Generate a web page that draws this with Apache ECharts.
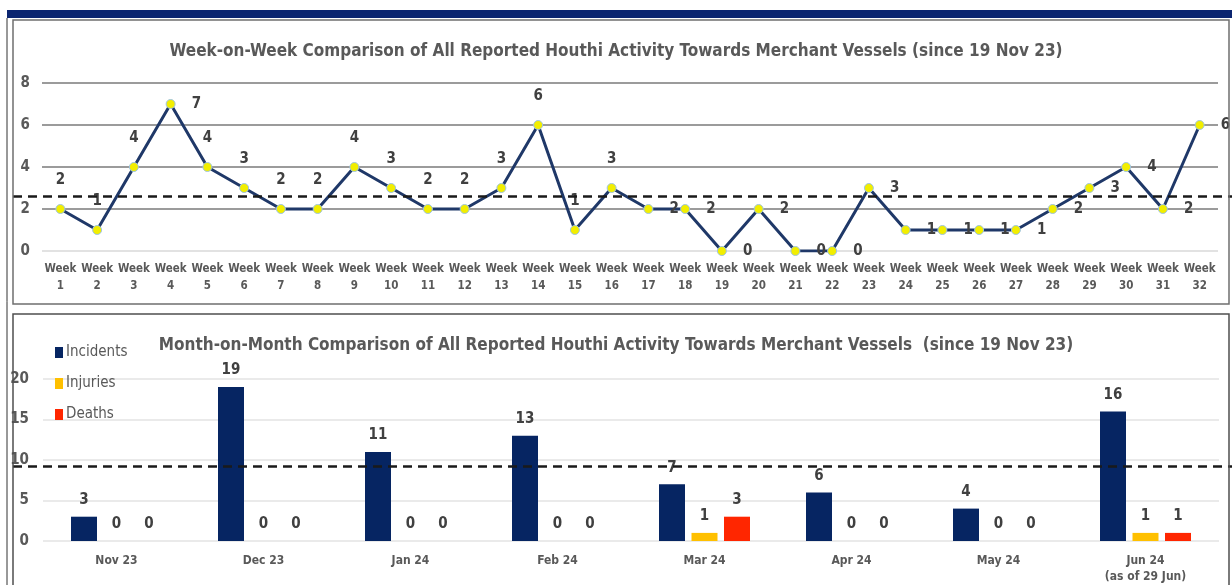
<!DOCTYPE html>
<html>
<head>
<meta charset="utf-8">
<script src="https://cdn.jsdelivr.net/npm/echarts@6/dist/echarts.min.js"></script>
<style>
  html, body { margin: 0; padding: 0; background: #fff; }
  #main { width: 1232px; height: 585px; }
</style>
</head>
<body>
<div id="main"></div>
<script>
// weekly activity (top panel)
const weekNames = Array.from({ length: 32 }, (_, i) => 'Week\n' + (i + 1));
const weekValues = [2, 1, 4, 7, 4, 3, 2, 2, 4, 3, 2, 2, 3, 6, 1, 3,
                    2, 2, 0, 2, 0, 0, 3, 1, 1, 1, 1, 2, 3, 4, 2, 6];
const weekAverage = 2.6;

// monthly activity (bottom panel)
const monthNames = ['Nov 23', 'Dec 23', 'Jan 24', 'Feb 24', 'Mar 24', 'Apr 24', 'May 24', 'Jun 24\n(as of 29 Jun)'];
const incidents = [3, 19, 11, 13, 7, 6, 4, 16];
const injuries = [0, 0, 0, 0, 1, 0, 0, 1];
const deaths = [0, 0, 0, 0, 3, 0, 0, 1];
const monthAverage = 9.2;

const FONT = '"Liberation Sans Narrow", "DejaVu Sans Condensed", Arial, sans-serif';
const GREY = '#595959';

function initHouthiChart() {
    const chartDom = document.getElementById('main');
    const myChart = echarts.init(chartDom);

    const lblStyle = { fontFamily: FONT, fontWeight: 'bold', fontSize: 15, color: '#404040' };

    const option = {
        animation: false,
        textStyle: { fontFamily: FONT },
        title: [
            {
                text: 'Week-on-Week Comparison of All Reported Houthi Activity Towards Merchant Vessels (since 19 Nov 23)',
                left: 'center',
                top: 38,
                textStyle: { fontFamily: FONT, fontSize: 17, fontWeight: 'bold', color: GREY }
            },
            {
                text: 'Month-on-Month Comparison of All Reported Houthi Activity Towards Merchant Vessels  (since 19 Nov 23)',
                left: 'center',
                top: 332,
                textStyle: { fontFamily: FONT, fontSize: 17, fontWeight: 'bold', color: GREY }
            }
        ],
        legend: {
            data: ['Incidents', 'Injuries', 'Deaths'],
            orient: 'vertical',
            left: 50,
            top: 340,
            itemWidth: 8,
            itemHeight: 11,
            itemGap: 16,
            icon: 'rect',
            itemStyle: { borderWidth: 0 },
            textStyle: { fontFamily: FONT, fontSize: 15, color: GREY, padding: [0, 0, 0, -2] }
        },
        grid: [
            { left: 42, right: 14, top: 83, height: 168 },
            { left: 43, right: 13, top: 379, height: 164 }
        ],
        xAxis: [
            {
                gridIndex: 0,
                type: 'category',
                data: weekNames,
                boundaryGap: true,
                axisLine: { show: false },
                axisTick: { show: false },
                axisLabel: {
                    interval: 0, margin: 10, lineHeight: 17,
                    fontFamily: FONT, fontWeight: 'bold', fontSize: 11.5, color: GREY
                }
            },
            {
                gridIndex: 1,
                type: 'category',
                data: monthNames,
                axisLine: { show: false },
                axisTick: { show: false },
                axisLabel: {
                    interval: 0, margin: 12, lineHeight: 16,
                    fontFamily: FONT, fontWeight: 'bold', fontSize: 12, color: GREY
                }
            }
        ],
        yAxis: [
            {
                gridIndex: 0,
                type: 'value',
                min: 0, max: 8, interval: 2,
                axisLabel: { margin: 12, fontFamily: FONT, fontWeight: 'bold', fontSize: 15, color: GREY },
                splitLine: { lineStyle: { color: ['#d9d9d9', '#7a7a7a', '#7a7a7a', '#7a7a7a', '#7a7a7a'], width: 1.5 } }
            },
            {
                gridIndex: 1,
                type: 'value',
                min: 0, max: 20, interval: 5,
                axisLabel: { margin: 14, fontFamily: FONT, fontWeight: 'bold', fontSize: 15, color: GREY },
                splitLine: { lineStyle: { color: '#e3e3e3', width: 1.5 } }
            }
        ],
        series: [
            {
                name: 'Weekly',
                type: 'line',
                xAxisIndex: 0,
                yAxisIndex: 0,
                data: weekValues.map((v, i) => ({
                    value: v,
                    label: { position: (i >= 16 || i === 3) ? 'right' : 'top' }
                })),
                lineStyle: { color: '#1f3868', width: 3 },
                symbol: 'circle',
                symbolSize: 9,
                itemStyle: { color: '#f2ee00', borderColor: '#9cc3e5', borderWidth: 1 },
                label: Object.assign({ show: true, distance: 16 }, lblStyle),
                z: 3
            },
            {
                name: 'Incidents',
                type: 'bar',
                xAxisIndex: 1,
                yAxisIndex: 1,
                data: incidents,
                barWidth: 26,
                barGap: '25%',
                itemStyle: { color: '#062562' },
                label: Object.assign({ show: true, position: 'top', distance: 9 }, lblStyle)
            },
            {
                name: 'Injuries',
                type: 'bar',
                xAxisIndex: 1,
                yAxisIndex: 1,
                data: injuries,
                barWidth: 26,
                barGap: '25%',
                itemStyle: { color: '#ffc000' },
                label: Object.assign({ show: true, position: 'top', distance: 9 }, lblStyle)
            },
            {
                name: 'Deaths',
                type: 'bar',
                xAxisIndex: 1,
                yAxisIndex: 1,
                data: deaths,
                barWidth: 26,
                barGap: '25%',
                itemStyle: { color: '#ff2600' },
                label: Object.assign({ show: true, position: 'top', distance: 9 }, lblStyle)
            }
        ]
    };

    myChart.setOption(option);

    // frames, header band and dashed average lines placed through the axes
    const yTop = myChart.convertToPixel({ yAxisIndex: 0 }, weekAverage);
    const yBot = myChart.convertToPixel({ yAxisIndex: 1 }, monthAverage);
    const dash = { stroke: '#1a1a1a', lineWidth: 2.5, lineDash: [9, 6] };
    myChart.setOption({
        graphic: [
            { type: 'rect', shape: { x: 7, y: 10, width: 1225, height: 8 }, style: { fill: '#0b2570' }, z: 10 },
            { type: 'rect', shape: { x: 13, y: 20, width: 1216, height: 284 }, style: { fill: 'none', stroke: '#6f6f6f', lineWidth: 1.5 }, z: 10 },
            { type: 'rect', shape: { x: 13, y: 314, width: 1216, height: 290 }, style: { fill: 'none', stroke: '#4f4f4f', lineWidth: 1.5 }, z: 10 },
            { type: 'line', shape: { x1: 7, y1: 18, x2: 7, y2: 585 }, style: { stroke: '#333', lineWidth: 1 }, z: 10 },
            { type: 'line', shape: { x1: 13, y1: yTop, x2: 1232, y2: yTop }, style: dash, z: 5 },
            { type: 'line', shape: { x1: 13, y1: yBot, x2: 1232, y2: yBot }, style: dash, z: 5 }
        ]
    });

    return myChart;
}

initHouthiChart();
</script>
</body>
</html>
